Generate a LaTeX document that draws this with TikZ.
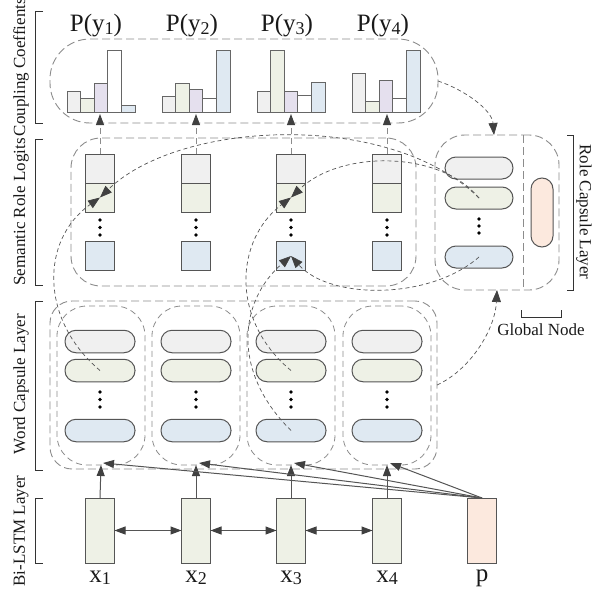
\documentclass[tikz,border=0pt]{standalone}
\usepackage{fontspec}
\setmainfont{Liberation Serif}
\usetikzlibrary{arrows.meta}
\definecolor{cgray}{HTML}{F0F0F0}
\definecolor{cgreen}{HTML}{EEF1E6}
\definecolor{cpurple}{HTML}{E5E0EE}
\definecolor{cblue}{HTML}{DFE9F2}
\definecolor{cpeach}{HTML}{FCE9DE}
\definecolor{cline}{HTML}{555555}
\definecolor{cdash}{HTML}{8C8C8C}
\definecolor{ctip}{HTML}{404040}
\newcommand\BigLab{\fontsize{25}{30}\selectfont}
\newcommand\LayLab{\fontsize{17}{20}\selectfont}
\newcommand\mysub[1]{\raisebox{-2.5pt}{\fontsize{18}{20}\selectfont #1}}
\begin{document}
\begin{tikzpicture}[x=1pt,y=-1pt,
  every node/.style={inner sep=0pt,outer sep=0pt},
  box/.style={draw=cline,line width=1pt},
  cell/.style={box,minimum width=29pt,minimum height=29pt},
  pillh/.style={box,rounded corners=11pt,minimum width=70pt,minimum height=22.5pt},
  lstm/.style={box,minimum width=29pt,minimum height=65pt},
  ldash/.style={draw=cdash,line width=0.9pt,dash pattern=on 8pt off 4pt},
  mdash/.style={draw=cdash,line width=0.8pt,dash pattern=on 6pt off 4pt},
  tipT/.style={-{Triangle[length=12pt,width=9pt,fill=ctip,color=ctip]}},
  curve/.style={draw=cline,line width=0.7pt,dash pattern=on 4pt off 3pt,tipT},
  dasharr/.style={draw=cdash,line width=0.9pt,dash pattern=on 6pt off 4pt,-{Triangle[length=11pt,width=8pt,fill=ctip,color=ctip]}},
  solarr/.style={draw=cline,line width=1pt,-{Triangle[length=11pt,width=8pt,fill=ctip,color=ctip]}},
  dblarr/.style={draw=cline,line width=1pt,{Triangle[length=11pt,width=8pt,fill=ctip,color=ctip]}-{Triangle[length=11pt,width=8pt,fill=ctip,color=ctip]}},
  bar/.style={draw=cline!90,line width=0.9pt},
  brk/.style={draw=black!80,line width=1pt},
  big/.style={font=\BigLab,text=black!90},
  lay/.style={font=\LayLab,text=black!90}
]
\useasboundingbox (0,0) rectangle (604,594);

% ---------- outlines ----------
\node[ldash,rounded corners=40pt,minimum width=388pt,minimum height=84pt] (cc) at (244,81) {};
\node[ldash,rounded corners=30pt,minimum width=345pt,minimum height=148pt] (lr) at (243.5,212) {};
\node[ldash,rounded corners=30pt,minimum width=124pt,minimum height=155pt] (rc) at (497,212.5) {};
\draw[ldash] (523,135) -- (523,290);
\node[ldash,rounded corners=22pt,minimum width=387pt,minimum height=168pt] (wb) at (243.5,385) {};
\foreach \i/\cx in {1/101,2/196,3/291,4/387}{
  \node[mdash,rounded corners=30pt,minimum width=88pt,minimum height=159pt] (wc\i) at (\cx,385.5) {};
}

% ---------- bars ----------
\foreach \cx/\a/\b/\c/\d/\e in {101/91/98/83/50/105,196/96/83/89/98/50,291/91/50/91/95/82,386/73/101/80/98/50}{
  \draw[bar,fill=cgray]   (\cx-34,112) rectangle (\cx-20.4,\a);
  \draw[bar,fill=cgreen]  (\cx-20.4,112) rectangle (\cx-6.8,\b);
  \draw[bar,fill=cpurple] (\cx-6.8,112) rectangle (\cx+6.8,\c);
  \draw[bar,fill=white]   (\cx+6.8,112) rectangle (\cx+20.4,\d);
  \draw[bar,fill=cblue]   (\cx+20.4,112) rectangle (\cx+34,\e);
}

% ---------- columns ----------
\foreach \i/\cx in {1/100,2/196,3/291,4/387}{
  \node[big,anchor=base] (py\i) at (\cx-4,32) {P(y\mysub{\i})};
  \coordinate (bt\i) at (\cx,114);
  \node[cell,fill=cgray]  (g\i1) at (\cx,168.5) {};
  \node[cell,fill=cgreen] (g\i2) at (\cx,197.5) {};
  \node[cell,fill=cblue]  (g\i3) at (\cx,256) {};
  \foreach \yy in {220,227.5,235}{\fill[black] (\cx,\yy) circle (1.9pt);}
  \node[pillh,fill=cgray]  (w\i1) at (\cx,341.5) {};
  \node[pillh,fill=cgreen] (w\i2) at (\cx,370.5) {};
  \node[pillh,fill=cblue]  (w\i3) at (\cx,430.5) {};
  \foreach \yy in {392,399.5,407}{\fill[black] (\cx,\yy) circle (1.9pt);}
  \node[lstm,fill=cgreen] (l\i) at (\cx,530.5) {};
  \node[big,anchor=base] (xl\i) at (\cx,582) {x\mysub{\i}};
  \coordinate (pt\i) at (\cx+3,463);
  \draw[dasharr] (g\i1.north) -- (bt\i);
  \draw[solarr] (l\i.north) -- (wc\i.south);
}
\node[lstm,fill=cpeach] (lp) at (482,530.5) {};
\node[big,anchor=base] (pl) at (482,581) {p};
\foreach \i in {1,2,3,4}{\draw[solarr] (lp.north) -- (pt\i);}
\draw[dblarr] (l1.east) -- (l2.west);
\draw[dblarr] (l2.east) -- (l3.west);
\draw[dblarr] (l3.east) -- (l4.west);

% ---------- role capsules ----------
\node[box,rounded corners=11pt,minimum width=68pt,minimum height=22pt,fill=cgray]  (r1) at (479,168) {};
\node[box,rounded corners=11pt,minimum width=68pt,minimum height=22pt,fill=cgreen] (r2) at (479,198) {};
\node[box,rounded corners=11pt,minimum width=68pt,minimum height=22pt,fill=cblue]  (r3) at (479,257) {};
\foreach \yy in {219,226,233}{\fill[black] (479,\yy) circle (1.9pt);}
\node[box,rounded corners=11pt,minimum width=22pt,minimum height=69pt,fill=cpeach] (gn) at (542,212.5) {};

% ---------- routing curves ----------
\draw[curve] (r2.center) .. controls (390,110) and (180,120) .. (g12.center);
\draw[curve] (w12.center) .. controls (40,320) and (40,240) .. (g12.center);
\draw[curve] (r2.center) .. controls (440,150) and (340,150) .. (g32.center);
\draw[curve] (w32.center) .. controls (230,320) and (235,240) .. (g32.center);
\draw[curve] (r3.center) .. controls (430,300) and (330,300) .. (g33.center);
\draw[curve] (w33.center) .. controls (230,370) and (240,300) .. (g33.center);
\draw[curve] (cc.east) .. controls (465,90) and (492,110) .. ([xshift=-3pt]rc.north);
\draw[curve] (wb.east) .. controls (470,370) and (495,330) .. (rc.south);

% ---------- brackets and layer labels ----------
\draw[brk] (43,12) -- (35,12) -- (35,123) -- (43,123);
\draw[brk] (43,139) -- (35,139) -- (35,285) -- (43,285);
\draw[brk] (43,301) -- (35,301) -- (35,470) -- (43,470);
\draw[brk] (43,498) -- (35,498) -- (35,563) -- (43,563);
\node[lay,rotate=90] (lab1) at (21,67) {Coupling Coeffients};
\node[lay,rotate=90] (lab2) at (21,212) {Semantic Role Logits};
\node[lay,rotate=90] (lab3) at (21,384) {Word Capsule Layer};
\node[lay,rotate=90] (lab4) at (21,531) {Bi-LSTM Layer};
\draw[brk] (567,135) -- (573,135) -- (573,290) -- (567,290);
\node[lay,rotate=-90] (lab5) at (584,212) {Role Capsule Layer};
\draw[brk] (521,310) -- (521,317) -- (561,317) -- (561,310);
\node[lay,anchor=base] (lab6) at (541,335) {Global Node};
\end{tikzpicture}
\end{document}
